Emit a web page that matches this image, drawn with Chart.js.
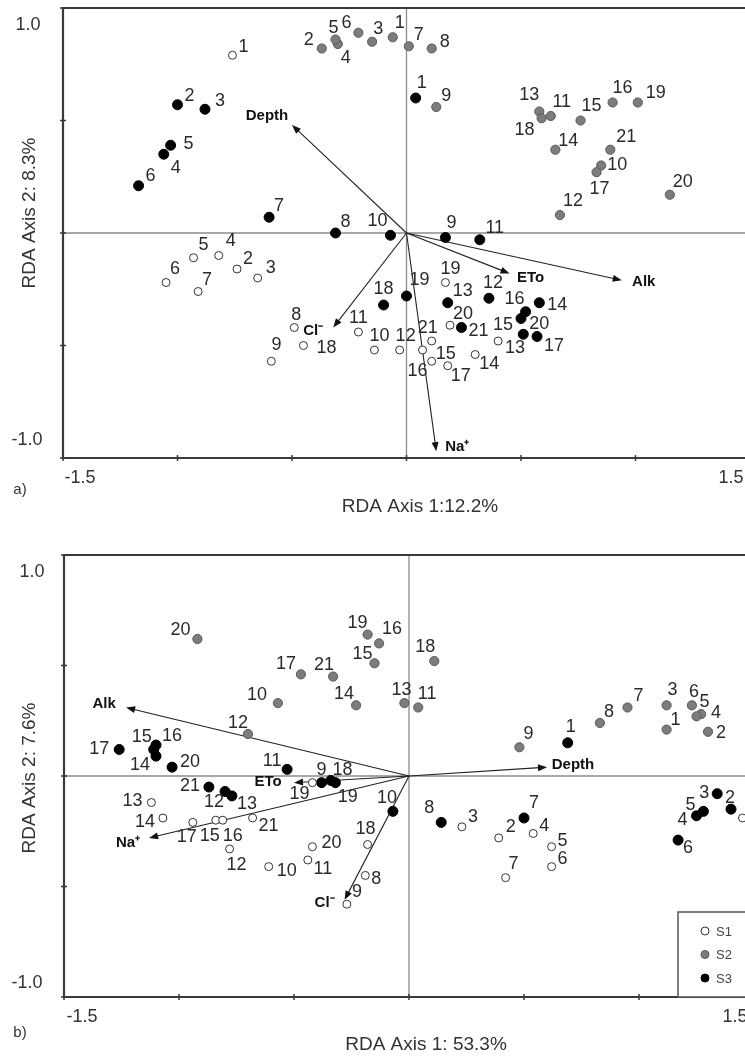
<!DOCTYPE html>
<html>
<head>
<meta charset="utf-8">
<script src="https://cdn.jsdelivr.net/npm/chart.js@4.4.1/dist/chart.umd.min.js"></script>
<style>
  html, body { margin: 0; padding: 0; background: #fff; overflow: hidden; width: 745px; height: 1056px; }
  .panel { position: absolute; left: 0; width: 760px; }
  #wrapA { top: 0; height: 530px; }
  #wrapB { top: 530px; height: 526px; }
</style>
</head>
<body>
<div class="panel" id="wrapA"><canvas id="chartA" width="760" height="530"></canvas></div>
<div class="panel" id="wrapB"><canvas id="chartB" width="760" height="526"></canvas></div>
<script>
// sitios 1..21
const siteIds = ['1','2','3','4','5','6','7','8','9','10','11','12','13','14','15','16','17','18','19','20','21'];
const envNames = ['Depth', 'Cl\u207B', 'Na\u207A', 'ETo', 'Alk'];
const xTicks = [-1.5, -1, -0.5, 0, 0.5, 1, 1.5];
const yTicks = [-1, -0.5, 0, 0.5, 1];

// panel a) RDA axis 1 / axis 2
const aS1x = [-0.76,-0.74,-0.65,-0.82,-0.93,-1.05,-0.91,-0.49,-0.59,-0.14,-0.21,-0.03,0.40,0.30,0.11,0.07,0.18,-0.45,0.17,0.19,0.11];
const aS1y = [0.79,-0.16,-0.20,-0.10,-0.11,-0.22,-0.26,-0.42,-0.57,-0.52,-0.44,-0.52,-0.48,-0.54,-0.57,-0.52,-0.59,-0.50,-0.22,-0.41,-0.48];
const aS2x = [-0.06,-0.37,-0.15,-0.30,-0.31,-0.21,0.01,0.11,0.13,0.85,0.63,0.67,0.58,0.65,0.76,0.90,0.83,0.59,1.01,1.15,0.89];
const aS2y = [0.87,0.82,0.85,0.84,0.86,0.89,0.83,0.82,0.56,0.30,0.52,0.08,0.54,0.37,0.50,0.58,0.27,0.51,0.58,0.17,0.37];
const aS3x = [0.04,-1.00,-0.88,-1.06,-1.03,-1.17,-0.60,-0.31,0.17,-0.07,0.32,0.36,0.18,0.58,0.50,0.52,0.57,-0.10,0.00,0.51,0.24];
const aS3y = [0.60,0.57,0.55,0.35,0.39,0.21,0.07,0.00,-0.02,-0.01,-0.03,-0.29,-0.31,-0.31,-0.38,-0.35,-0.46,-0.32,-0.28,-0.45,-0.42];
const aEnvX = [-0.50,-0.32,0.13,0.45,0.94];
const aEnvY = [0.48,-0.42,-0.97,-0.18,-0.21];

// panel b)
const bS1x = [1.45,0.39,0.23,0.54,0.62,0.62,0.42,-0.19,-0.27,-0.61,-0.44,-0.78,-1.12,-1.07,-0.84,-0.81,-0.94,-0.18,-0.42,-0.42,-0.68];
const bS1y = [-0.19,-0.28,-0.23,-0.26,-0.32,-0.41,-0.46,-0.45,-0.58,-0.41,-0.38,-0.33,-0.12,-0.19,-0.20,-0.20,-0.21,-0.31,-0.03,-0.32,-0.19];
const bS2x = [1.12,1.30,1.12,1.27,1.25,1.23,0.95,0.83,0.48,-0.57,0.04,-0.70,-0.02,-0.23,-0.15,-0.13,-0.47,0.11,-0.18,-0.92,-0.33];
const bS2y = [0.21,0.20,0.32,0.28,0.27,0.32,0.31,0.24,0.13,0.33,0.31,0.19,0.33,0.32,0.51,0.60,0.46,0.52,0.64,0.62,0.45];
const bS3x = [0.69,1.40,1.34,1.25,1.28,1.17,0.50,0.14,-0.38,-0.07,-0.53,-0.80,-0.77,-1.10,-1.11,-1.10,-1.26,-0.32,-0.34,-1.03,-0.87];
const bS3y = [0.15,-0.15,-0.08,-0.18,-0.16,-0.29,-0.19,-0.21,-0.03,-0.16,0.03,-0.07,-0.09,0.09,0.12,0.14,0.12,-0.03,-0.02,0.04,-0.05];
const bEnvX = [0.60,-0.28,-1.13,-0.50,-1.23];
const bEnvY = [0.04,-0.56,-0.28,-0.03,0.31];

// donde va cada numerito respecto a su punto (px)
const aS1off = [[11,-8],[11,-10],[13,-10],[12,-14],[10,-13],[9,-13],[9,-11],[2,-12],[5,-16],[5,-14],[0,-14],[6,-14],[17,7],[14,10],[14,-7],[-5,21],[13,10],[23,3],[5,-13],[13,-11],[-4,-13]];
const aS2off = [[7,-14],[-13,-8],[6,-13],[8,14],[-2,-11],[-12,-10],[10,-11],[13,-6],[10,-11],[16,0],[11,-14],[13,-14],[-10,-16],[13,-9],[11,-14],[10,-14],[3,17],[-17,12],[18,-9],[13,-13],[16,-13]];
const aS3off = [[6,-15],[12,-9],[15,-8],[12,14],[18,-1],[12,-10],[10,-11],[10,-11],[6,-14],[-13,-14],[15,-12],[4,-15],[15,-12],[18,2],[-18,7],[-11,-13],[17,10],[0,-16],[13,-16],[16,-10],[17,4]];
const bS1off = [[10,-10],[12,-11],[11,-10],[11,-7],[11,-6],[11,-8],[8,-14],[11,4],[10,-12],[18,4],[15,9],[7,16],[-19,-1],[-18,4],[-6,16],[10,16],[-6,15],[-2,-15],[-13,11],[19,-4],[16,8]];
const bS2off = [[9,-10],[13,1],[6,-15],[15,-1],[8,-14],[2,-13],[11,-11],[9,-11],[9,-13],[-21,-8],[9,-13],[-10,-11],[-3,-13],[-12,-11],[-12,-9],[13,-14],[-15,-10],[-9,-14],[-10,-12],[-17,-9],[-9,-12]];
const bS3off = [[3,-16],[-1,-11],[-13,-1],[-14,4],[-13,-6],[10,8],[10,-15],[-12,-14],[0,-13],[-6,-13],[-15,-8],[-11,11],[15,8],[-16,9],[-12,-12],[16,-9],[-20,0],[7,-13],[17,17],[18,-5],[-19,-1]];
const aEnvOff = [[-25,-9],[-20,3],[21,-4],[21,4],[22,2]];
const bEnvOff = [[26,-2],[-20,3],[-21,5],[-26,-1],[-22,-4]];

const FONT = '"Liberation Sans", Arial, sans-serif';

function pts(xs, ys) {
    return xs.map((x, i) => ({ x: x, y: ys[i] }));
}

function arrow(ctx, x0, y0, x1, y1) {
    const ang = Math.atan2(y1 - y0, x1 - x0);
    const L = 9, W = 3.5;
    ctx.beginPath();
    ctx.moveTo(x0, y0);
    ctx.lineTo(x1 - Math.cos(ang) * L * 0.8, y1 - Math.sin(ang) * L * 0.8);
    ctx.stroke();
    ctx.beginPath();
    ctx.moveTo(x1, y1);
    ctx.lineTo(x1 - Math.cos(ang) * L - Math.sin(ang) * W, y1 - Math.sin(ang) * L + Math.cos(ang) * W);
    ctx.lineTo(x1 - Math.cos(ang) * L + Math.sin(ang) * W, y1 - Math.sin(ang) * L - Math.cos(ang) * W);
    ctx.closePath();
    ctx.fill();
}

// plugin que dibuja marco, ejes en cero, flechas y rotulos
function biplotPlugin(p) {
    return {
        id: 'biplot_' + p.tag,
        beforeDatasetsDraw(chart) {
            const ctx = chart.ctx, a = chart.chartArea;
            const sx = chart.scales.x, sy = chart.scales.y;
            const x0 = sx.getPixelForValue(0), y0 = sy.getPixelForValue(0);
            ctx.save();
            // lineas del cero
            ctx.strokeStyle = '#8c8c8c';
            ctx.lineWidth = 1.3;
            ctx.beginPath();
            ctx.moveTo(a.left, y0); ctx.lineTo(a.right, y0);
            ctx.moveTo(x0, a.top); ctx.lineTo(x0, a.bottom);
            ctx.stroke();
            // marco
            ctx.strokeStyle = '#3a3a3a';
            ctx.lineWidth = 2.2;
            ctx.beginPath();
            ctx.moveTo(a.right, a.top); ctx.lineTo(a.left, a.top);
            ctx.lineTo(a.left, a.bottom); ctx.lineTo(a.right, a.bottom);
            ctx.lineTo(a.right, a.top);
            ctx.stroke();
            // marcas
            ctx.lineWidth = 1.5;
            ctx.beginPath();
            yTicks.forEach(v => {
                const y = sy.getPixelForValue(v);
                ctx.moveTo(a.left - 3, y); ctx.lineTo(a.left + 3, y);
            });
            xTicks.forEach(v => {
                const x = sx.getPixelForValue(v);
                ctx.moveTo(x, a.bottom - 3); ctx.lineTo(x, a.bottom + 3);
            });
            ctx.stroke();
            // flechas ambientales
            ctx.strokeStyle = '#222';
            ctx.fillStyle = '#111';
            ctx.lineWidth = 1.1;
            p.envX.forEach((ex, i) => {
                arrow(ctx, x0, y0, sx.getPixelForValue(ex), sy.getPixelForValue(p.envY[i]));
            });
            ctx.restore();
        },
        afterDatasetsDraw(chart) {
            const ctx = chart.ctx;
            const sx = chart.scales.x, sy = chart.scales.y;
            ctx.save();
            ctx.textAlign = 'center';
            ctx.textBaseline = 'middle';
            // numeros de sitio
            ctx.fillStyle = '#2a2a2a';
            ctx.font = '18px ' + FONT;
            [p.off1, p.off2, p.off3].forEach((offs, d) => {
                const meta = chart.getDatasetMeta(d);
                meta.data.forEach((el, j) => {
                    ctx.fillText(siteIds[j], el.x + offs[j][0], el.y + offs[j][1]);
                });
            });
            // nombres de variables
            ctx.fillStyle = '#111';
            ctx.font = 'bold 15px ' + FONT;
            envNames.forEach((n, i) => {
                const x = sx.getPixelForValue(p.envX[i]), y = sy.getPixelForValue(p.envY[i]);
                ctx.fillText(n, x + p.envOff[i][0], y + p.envOff[i][1]);
            });
            // etiquetas de ejes
            ctx.fillStyle = '#333';
            ctx.font = '18px ' + FONT;
            p.tickText.forEach(t => ctx.fillText(t[0], t[1], t[2]));
            ctx.font = '19px ' + FONT;
            ctx.fillText(p.xTitle, p.xTitlePos[0], p.xTitlePos[1]);
            ctx.save();
            ctx.translate(p.yTitlePos[0], p.yTitlePos[1]);
            ctx.rotate(-Math.PI / 2);
            ctx.fillText(p.yTitle, 0, 0);
            ctx.restore();
            ctx.font = '15px ' + FONT;
            ctx.fillText(p.tag + ')', p.tagPos[0], p.tagPos[1]);

            // leyenda (solo panel b)
            if (p.legend) {
                const L = p.legend;
                ctx.fillStyle = '#fff';
                ctx.fillRect(L.x, L.y, L.w, L.h);
                ctx.strokeStyle = '#555';
                ctx.lineWidth = 1.5;
                ctx.strokeRect(L.x, L.y, L.w, L.h);
                ctx.textAlign = 'left';
                ctx.font = '13px ' + FONT;
                chart.data.datasets.forEach((ds, i) => {
                    const yy = L.y + 19 + i * 23.5;
                    ctx.beginPath();
                    ctx.arc(L.x + 27, yy, 4, 0, Math.PI * 2);
                    ctx.fillStyle = ds.pointBackgroundColor;
                    ctx.fill();
                    ctx.strokeStyle = ds.pointBorderColor;
                    ctx.lineWidth = 1;
                    ctx.stroke();
                    ctx.fillStyle = '#444';
                    ctx.fillText(ds.label, L.x + 38, yy + 1);
                });
            }
            ctx.restore();
        }
    };
}

function makePanel(id, p) {
    const ctx = document.getElementById(id).getContext('2d');
    return new Chart(ctx, {
        type: 'scatter',
        data: {
            datasets: [
                { label: 'S1', data: pts(p.s1x, p.s1y), pointRadius: 4, pointBackgroundColor: '#ffffff', pointBorderColor: '#333333', pointBorderWidth: 1 },
                { label: 'S2', data: pts(p.s2x, p.s2y), pointRadius: 4.6, pointBackgroundColor: '#7c7c7c', pointBorderColor: '#5a5a5a', pointBorderWidth: 1 },
                { label: 'S3', data: pts(p.s3x, p.s3y), pointRadius: 5, pointBackgroundColor: '#000000', pointBorderColor: '#000000', pointBorderWidth: 1 }
            ]
        },
        options: {
            responsive: false,
            animation: false,
            layout: { padding: p.pad },
            plugins: { legend: { display: false }, tooltip: { enabled: false } },
            scales: {
                x: { type: 'linear', min: -1.5, max: 1.5, display: false },
                y: { type: 'linear', min: -1, max: 1, display: false }
            }
        },
        plugins: [biplotPlugin(p)]
    });
}

document.addEventListener('DOMContentLoaded', () => {
    makePanel('chartA', {
        tag: 'a',
        s1x: aS1x, s1y: aS1y, s2x: aS2x, s2y: aS2y, s3x: aS3x, s3y: aS3y,
        off1: aS1off, off2: aS2off, off3: aS3off,
        envX: aEnvX, envY: aEnvY, envOff: aEnvOff,
        pad: { left: 63, top: 8, right: 10, bottom: 72 },
        tickText: [['1.0', 28, 25], ['-1.0', 27, 440], ['-1.5', 80, 478], ['1.5', 731, 478]],
        xTitle: 'RDA Axis 1:12.2%', xTitlePos: [420, 507],
        yTitle: 'RDA Axis 2: 8.3%', yTitlePos: [30, 213],
        tagPos: [20, 490]
    });
    makePanel('chartB', {
        tag: 'b',
        s1x: bS1x, s1y: bS1y, s2x: bS2x, s2y: bS2y, s3x: bS3x, s3y: bS3y,
        off1: bS1off, off2: bS2off, off3: bS3off,
        envX: bEnvX, envY: bEnvY, envOff: bEnvOff,
        pad: { left: 64, top: 25, right: 6, bottom: 59 },
        tickText: [['1.0', 32, 42], ['-1.0', 27, 453], ['-1.5', 82, 487], ['1.5', 735, 487]],
        xTitle: 'RDA Axis 1: 53.3%', xTitlePos: [426, 515],
        yTitle: 'RDA Axis 2: 7.6%', yTitlePos: [30, 248],
        tagPos: [20, 503],
        legend: { x: 678, y: 382, w: 90, h: 85 }
    });
});
</script>
</body>
</html>
